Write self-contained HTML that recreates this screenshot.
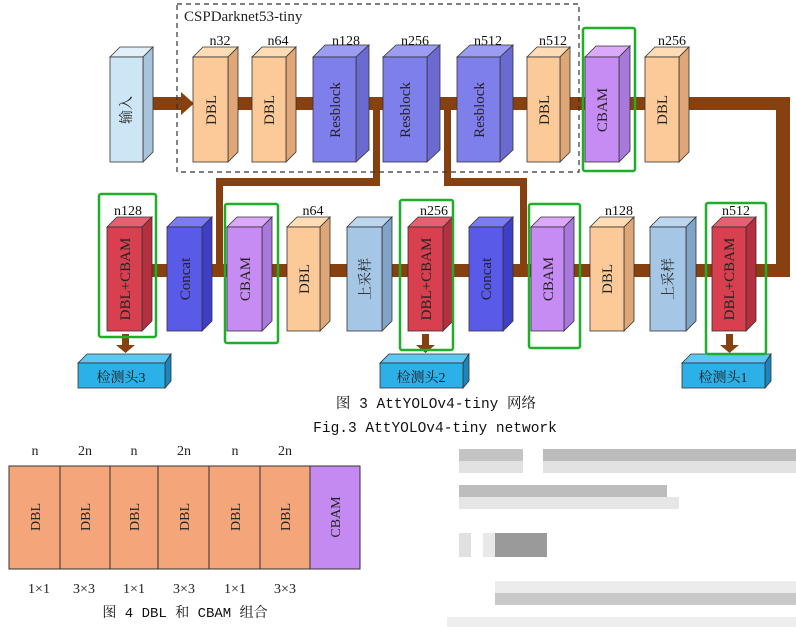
<!DOCTYPE html>
<html><head><meta charset="utf-8"><style>
html,body{margin:0;padding:0;background:#fff;}
svg{display:block;}
text{font-family:"Liberation Serif","Noto Serif CJK SC",serif;}
.m{font-family:"Liberation Mono","Noto Serif CJK SC",monospace;}
</style></head><body>
<svg width="796" height="627" viewBox="0 0 796 627" xmlns="http://www.w3.org/2000/svg">
<!-- pipes -->
<g fill="#87400f">
<rect x="153" y="97" width="30" height="13"/>
<polygon points="181,92 194,103.5 181,115"/>
<rect x="238" y="97" width="540" height="13"/>
<rect x="776" y="97" width="14" height="178"/>
<rect x="140" y="264" width="650" height="13"/>
<rect x="373" y="105" width="7" height="81"/>
<rect x="216" y="178" width="164" height="8"/>
<rect x="216" y="178" width="7" height="92"/>
<rect x="444" y="105" width="7" height="81"/>
<rect x="444" y="178" width="83" height="8"/>
<rect x="520" y="178" width="7" height="92"/>
<rect x="122" y="334" width="7" height="12"/><polygon points="116,345 135,345 125.5,353"/>
<rect x="422" y="334" width="7" height="12"/><polygon points="416,345 435,345 425.5,353"/>
<rect x="726" y="334" width="7" height="12"/><polygon points="720,345 739,345 729.5,353"/>
</g>
<!-- dashed box -->
<rect x="177" y="4" width="402" height="168" fill="none" stroke="#333" stroke-width="1.2" stroke-dasharray="5,4"/>
<text x="184" y="21" font-size="15" fill="#222">CSPDarknet53-tiny</text>

<g stroke="#333" stroke-width="0.8">
<polygon points="110,57 120,47 153,47 143,57" fill="#e2f0fa"/><polygon points="143,57 153,47 153,152 143,162" fill="#a7c4da"/><rect x="110" y="57" width="33" height="105" fill="#cde6f6"/>
<polygon points="193,57 203,47 238,47 228,57" fill="#fddcb6"/><polygon points="228,57 238,47 238,152 228,162" fill="#dfa777"/><rect x="193" y="57" width="35" height="105" fill="#fcca98"/>
<polygon points="252,57 262,47 296,47 286,57" fill="#fddcb6"/><polygon points="286,57 296,47 296,152 286,162" fill="#dfa777"/><rect x="252" y="57" width="34" height="105" fill="#fcca98"/>
<polygon points="313,57 325,45 369,45 356,57" fill="#9c9cf2"/><polygon points="356,57 369,45 369,150 356,162" fill="#6a6ad0"/><rect x="313" y="57" width="43" height="105" fill="#7f7fec"/>
<polygon points="383,57 396,45 440,45 427,57" fill="#9c9cf2"/><polygon points="427,57 440,45 440,150 427,162" fill="#6a6ad0"/><rect x="383" y="57" width="44" height="105" fill="#7f7fec"/>
<polygon points="457,57 470,45 513,45 500,57" fill="#9c9cf2"/><polygon points="500,57 513,45 513,150 500,162" fill="#6a6ad0"/><rect x="457" y="57" width="43" height="105" fill="#7f7fec"/>
<polygon points="527,57 537,47 570,47 560,57" fill="#fddcb6"/><polygon points="560,57 570,47 570,152 560,162" fill="#dfa777"/><rect x="527" y="57" width="33" height="105" fill="#fcca98"/>
<polygon points="585,57 596,46 630,46 619,57" fill="#dba8fa"/><polygon points="619,57 630,46 630,151 619,162" fill="#a878dc"/><rect x="585" y="57" width="34" height="105" fill="#c78cf4"/>
<polygon points="645,57 655,47 689,47 679,57" fill="#fddcb6"/><polygon points="679,57 689,47 689,152 679,162" fill="#dfa777"/><rect x="645" y="57" width="34" height="105" fill="#fcca98"/>

<polygon points="107,227 117,217 152,217 142,227" fill="#e56070"/><polygon points="142,227 152,217 152,321 142,331" fill="#b52f3e"/><rect x="107" y="227" width="35" height="104" fill="#d8404f"/>
<polygon points="167,227 177,217 212,217 202,227" fill="#7b7bf2"/><polygon points="202,227 212,217 212,321 202,331" fill="#3f3fc6"/><rect x="167" y="227" width="35" height="104" fill="#5a5ae8"/>
<polygon points="227,227 237,217 272,217 262,227" fill="#dba8fa"/><polygon points="262,227 272,217 272,321 262,331" fill="#a878dc"/><rect x="227" y="227" width="35" height="104" fill="#c78cf4"/>
<polygon points="287,227 297,217 330,217 320,227" fill="#fddcb6"/><polygon points="320,227 330,217 330,321 320,331" fill="#dfa777"/><rect x="287" y="227" width="33" height="104" fill="#fcca98"/>
<polygon points="347,227 357,217 392,217 382,227" fill="#bcd6ee"/><polygon points="382,227 392,217 392,321 382,331" fill="#80a4c6"/><rect x="347" y="227" width="35" height="104" fill="#a6c6e6"/>
<polygon points="408,227 418,217 453,217 443,227" fill="#e56070"/><polygon points="443,227 453,217 453,321 443,331" fill="#b52f3e"/><rect x="408" y="227" width="35" height="104" fill="#d8404f"/>
<polygon points="469,227 479,217 513,217 503,227" fill="#7b7bf2"/><polygon points="503,227 513,217 513,321 503,331" fill="#3f3fc6"/><rect x="469" y="227" width="34" height="104" fill="#5a5ae8"/>
<polygon points="531,227 541,217 574,217 564,227" fill="#dba8fa"/><polygon points="564,227 574,217 574,321 564,331" fill="#a878dc"/><rect x="531" y="227" width="33" height="104" fill="#c78cf4"/>
<polygon points="590,227 600,217 634,217 624,227" fill="#fddcb6"/><polygon points="624,227 634,217 634,321 624,331" fill="#dfa777"/><rect x="590" y="227" width="34" height="104" fill="#fcca98"/>
<polygon points="650,227 660,217 696,217 686,227" fill="#bcd6ee"/><polygon points="686,227 696,217 696,321 686,331" fill="#80a4c6"/><rect x="650" y="227" width="36" height="104" fill="#a6c6e6"/>
<polygon points="712,227 722,217 756,217 746,227" fill="#e56070"/><polygon points="746,227 756,217 756,321 746,331" fill="#b52f3e"/><rect x="712" y="227" width="34" height="104" fill="#d8404f"/>

<polygon points="78,363 87,354 171,354 165,363" fill="#5cc8f2"/><polygon points="165,363 171,354 171,381 165,388" fill="#1b86bc"/><rect x="78" y="363" width="87" height="25" fill="#2bb0e8"/>
<polygon points="380,363 389,354 469,354 463,363" fill="#5cc8f2"/><polygon points="463,363 469,354 469,381 463,388" fill="#1b86bc"/><rect x="380" y="363" width="83" height="25" fill="#2bb0e8"/>
<polygon points="682,363 691,354 771,354 765,363" fill="#5cc8f2"/><polygon points="765,363 771,354 771,381 765,388" fill="#1b86bc"/><rect x="682" y="363" width="83" height="25" fill="#2bb0e8"/>
</g>

<g fill="none" stroke="#1fae2a" stroke-width="2.5">
<rect x="583" y="28" width="52" height="143" rx="2"/>
<rect x="99" y="194" width="57" height="143" rx="2"/>
<rect x="225" y="204" width="53" height="139" rx="2"/>
<rect x="400" y="200" width="53" height="150" rx="2"/>
<rect x="529" y="204" width="51" height="144" rx="2"/>
<rect x="706" y="203" width="60" height="151" rx="2"/>
</g>

<g font-size="14" fill="#111" text-anchor="middle">
<text x="220" y="45">n32</text><text x="278" y="45">n64</text><text x="346" y="45">n128</text><text x="415" y="45">n256</text><text x="488" y="45">n512</text><text x="553" y="45">n512</text><text x="672" y="45">n256</text>
<text x="128" y="215">n128</text><text x="313" y="215">n64</text><text x="434" y="215">n256</text><text x="619" y="215">n128</text><text x="736" y="215">n512</text>
</g>
<g font-size="15" fill="#222" text-anchor="middle">
<text transform="translate(131,110) rotate(-90)" font-size="14">输入</text>
<text transform="translate(216,110) rotate(-90)">DBL</text>
<text transform="translate(274,110) rotate(-90)">DBL</text>
<text transform="translate(340,110) rotate(-90)">Resblock</text>
<text transform="translate(410,110) rotate(-90)">Resblock</text>
<text transform="translate(484,110) rotate(-90)">Resblock</text>
<text transform="translate(549,110) rotate(-90)">DBL</text>
<text transform="translate(607,110) rotate(-90)">CBAM</text>
<text transform="translate(667,110) rotate(-90)">DBL</text>
<text transform="translate(130,279) rotate(-90)">DBL+CBAM</text>
<text transform="translate(190,279) rotate(-90)">Concat</text>
<text transform="translate(250,279) rotate(-90)">CBAM</text>
<text transform="translate(309,279) rotate(-90)">DBL</text>
<text transform="translate(370,279) rotate(-90)" font-size="14">上采样</text>
<text transform="translate(431,279) rotate(-90)">DBL+CBAM</text>
<text transform="translate(491,279) rotate(-90)">Concat</text>
<text transform="translate(553,279) rotate(-90)">CBAM</text>
<text transform="translate(612,279) rotate(-90)">DBL</text>
<text transform="translate(673,279) rotate(-90)" font-size="14">上采样</text>
<text transform="translate(734,279) rotate(-90)">DBL+CBAM</text>
<text x="121" y="382" font-size="14">检测头3</text>
<text x="421" y="382" font-size="14">检测头2</text>
<text x="723" y="382" font-size="14">检测头1</text>
</g>

<text x="436" y="408" class="m" font-size="14.5" fill="#111" text-anchor="middle">图 3  AttYOLOv4-tiny 网络</text>
<text x="435" y="432" class="m" font-size="14.5" fill="#111" text-anchor="middle">Fig.3  AttYOLOv4-tiny network</text>

<g stroke="#333" stroke-width="1">
<rect x="9" y="466" width="301" height="103" fill="#f4a67a"/>
<rect x="310" y="466" width="50" height="103" fill="#c48af2"/>
<line x1="60" y1="466" x2="60" y2="569"/><line x1="110" y1="466" x2="110" y2="569"/><line x1="158" y1="466" x2="158" y2="569"/><line x1="209" y1="466" x2="209" y2="569"/><line x1="260" y1="466" x2="260" y2="569"/>
</g>
<g font-size="14" fill="#222" text-anchor="middle">
<text x="35" y="455">n</text><text x="85" y="455">2n</text><text x="134" y="455">n</text><text x="184" y="455">2n</text><text x="235" y="455">n</text><text x="285" y="455">2n</text>
<text x="39" y="593">1×1</text><text x="84" y="593">3×3</text><text x="134" y="593">1×1</text><text x="184" y="593">3×3</text><text x="235" y="593">1×1</text><text x="285" y="593">3×3</text>
<text transform="translate(40,517) rotate(-90)">DBL</text>
<text transform="translate(90,517) rotate(-90)">DBL</text>
<text transform="translate(139,517) rotate(-90)">DBL</text>
<text transform="translate(189,517) rotate(-90)">DBL</text>
<text transform="translate(240,517) rotate(-90)">DBL</text>
<text transform="translate(290,517) rotate(-90)">DBL</text>
<text transform="translate(340,517) rotate(-90)">CBAM</text>
</g>
<text x="185" y="617" class="m" font-size="14" fill="#111" text-anchor="middle">图 4  DBL 和 CBAM 组合</text>

<g>
<rect x="459" y="449" width="64" height="12" fill="#c4c4c4"/><rect x="459" y="461" width="64" height="12" fill="#e2e2e2"/>
<rect x="543" y="449" width="253" height="12" fill="#bcbcbc"/><rect x="543" y="461" width="253" height="12" fill="#e2e2e2"/>
<rect x="459" y="485" width="208" height="12" fill="#bdbdbd"/><rect x="459" y="497" width="220" height="12" fill="#e6e6e6"/>
<rect x="459" y="533" width="12" height="24" fill="#e0e0e0"/><rect x="483" y="533" width="12" height="24" fill="#e8e8e8"/><rect x="495" y="533" width="52" height="24" fill="#9a9a9a"/>
<rect x="495" y="581" width="301" height="12" fill="#ececec"/><rect x="495" y="593" width="301" height="12" fill="#c8c8c8"/>
<rect x="447" y="617" width="349" height="10" fill="#eeeeee"/>
</g>
</svg>
</body></html>
